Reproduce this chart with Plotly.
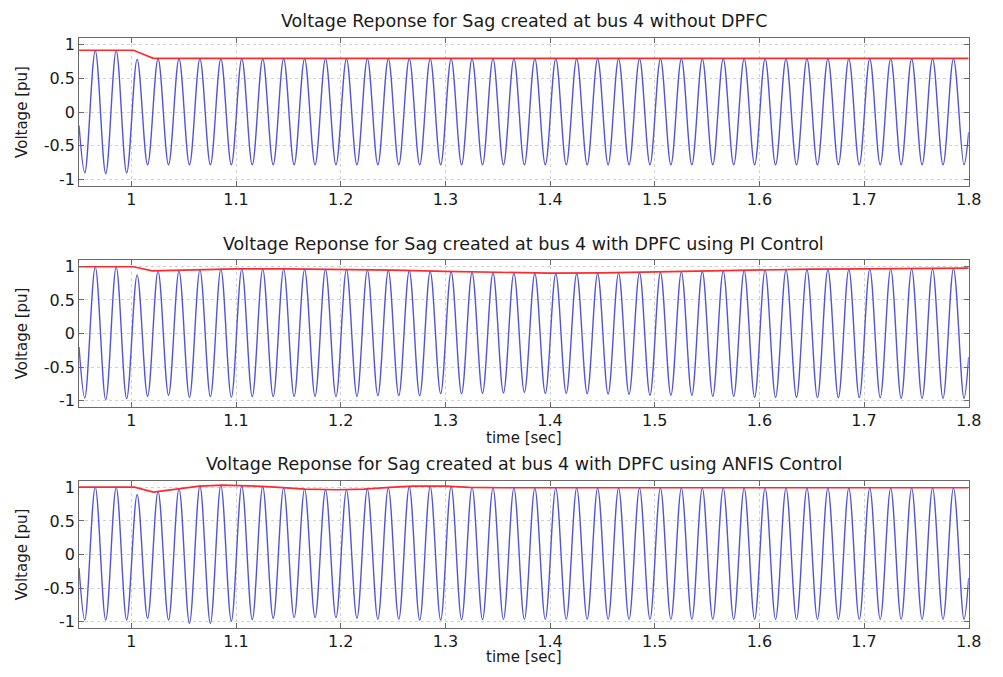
import plotly.graph_objects as go

# ---------------- data ----------------
x_ticks = [1.0, 1.1, 1.2, 1.3, 1.4, 1.5, 1.6, 1.7, 1.8]
x_ticklabels = ["1", "1.1", "1.2", "1.3", "1.4", "1.5", "1.6", "1.7", "1.8"]
y_ticks = [-1, -0.5, 0, 0.5, 1]
y_ticklabels = ["-1", "-0.5", "0", "0.5", "1"]

titles = [
    "Voltage Reponse for Sag created at bus 4 without DPFC",
    "Voltage Reponse for Sag created at bus 4 with DPFC using PI Control",
    "Voltage Reponse for Sag created at bus 4 with DPFC using ANFIS Control",
]

# times of the positive peaks and negative troughs of the waveform [sec]
peak_t = [0.9655, 0.9855, 1.0055, 1.0255, 1.0455, 1.0655, 1.0855, 1.1055, 1.1255, 1.1455,
          1.1655, 1.1855, 1.2055, 1.2255, 1.2455, 1.2655, 1.2855, 1.3055, 1.3255, 1.3455,
          1.3655, 1.3855, 1.4055, 1.4255, 1.4455, 1.4655, 1.4855, 1.5055, 1.5255, 1.5455,
          1.5655, 1.5855, 1.6055, 1.6255, 1.6455, 1.6655, 1.6855, 1.7055, 1.7255, 1.7455,
          1.7655, 1.7855]
trough_t = [0.9555, 0.9755, 0.9955, 1.0155, 1.0355, 1.0555, 1.0755, 1.0955, 1.1155, 1.1355,
            1.1555, 1.1755, 1.1955, 1.2155, 1.2355, 1.2555, 1.2755, 1.2955, 1.3155, 1.3355,
            1.3555, 1.3755, 1.3955, 1.4155, 1.4355, 1.4555, 1.4755, 1.4955, 1.5155, 1.5355,
            1.5555, 1.5755, 1.5955, 1.6155, 1.6355, 1.6555, 1.6755, 1.6955, 1.7155, 1.7355,
            1.7555, 1.7755, 1.7955]
edge_t = [0.95, 1.8]

# panel 1 : without DPFC
peaks1 = [0.91, 0.91, 0.78, 0.79, 0.79, 0.79, 0.79, 0.79, 0.79, 0.79,
          0.79, 0.79, 0.79, 0.79, 0.79, 0.79, 0.79, 0.79, 0.79, 0.79,
          0.79, 0.79, 0.79, 0.79, 0.79, 0.79, 0.79, 0.79, 0.79, 0.79,
          0.79, 0.79, 0.79, 0.79, 0.79, 0.79, 0.79, 0.79, 0.79, 0.79,
          0.79, 0.79]
troughs1 = [-0.90, -0.91, -0.90, -0.78, -0.78, -0.78, -0.78, -0.78, -0.78, -0.78,
            -0.78, -0.78, -0.78, -0.78, -0.78, -0.78, -0.78, -0.78, -0.78, -0.78,
            -0.78, -0.78, -0.78, -0.78, -0.78, -0.78, -0.78, -0.78, -0.78, -0.78,
            -0.78, -0.78, -0.78, -0.78, -0.78, -0.78, -0.78, -0.78, -0.78, -0.78,
            -0.78, -0.78, -0.78]
edges1 = [-0.2, -0.3]
env1_t = [0.95, 1.002, 1.021, 1.8]
env1_v = [0.915, 0.915, 0.795, 0.795]

# panel 2 : DPFC with PI control
peaks2 = [0.99, 0.99, 0.87, 0.93, 0.93, 0.945, 0.96, 0.96, 0.96, 0.96,
          0.955, 0.955, 0.955, 0.945, 0.935, 0.935, 0.925, 0.92, 0.91, 0.905,
          0.90, 0.895, 0.89, 0.89, 0.895, 0.90, 0.905, 0.91, 0.915, 0.925,
          0.93, 0.94, 0.945, 0.95, 0.95, 0.955, 0.955, 0.96, 0.96, 0.96,
          0.96, 0.965]
troughs2 = [-0.96, -0.985, -0.97, -0.935, -0.92, -0.95, -0.94, -0.95, -0.94, -0.94,
            -0.935, -0.935, -0.94, -0.935, -0.925, -0.925, -0.925, -0.895, -0.895, -0.89,
            -0.885, -0.875, -0.89, -0.89, -0.895, -0.90, -0.905, -0.92, -0.92, -0.92,
            -0.935, -0.935, -0.95, -0.95, -0.95, -0.955, -0.955, -0.955, -0.955, -0.965,
            -0.965, -0.965, -0.965]
edges2 = [-0.2, -0.35]
env2_t = [0.95, 1.002, 1.02, 1.04, 1.08, 1.1, 1.15, 1.2, 1.25, 1.3,
          1.35, 1.4, 1.45, 1.5, 1.55, 1.6, 1.65, 1.7, 1.75, 1.8]
env2_v = [0.995, 0.995, 0.935, 0.94, 0.96, 0.965, 0.965, 0.96, 0.945, 0.925,
          0.91, 0.90, 0.905, 0.92, 0.935, 0.95, 0.96, 0.965, 0.97, 0.975]

# panel 3 : DPFC with ANFIS control
peaks3 = [1.0, 1.0, 0.89, 0.94, 0.98, 1.02, 1.03, 1.025, 1.01, 0.99,
          0.975, 0.965, 0.96, 0.97, 0.99, 1.01, 1.015, 1.015, 1.0, 0.99,
          0.99, 0.99, 0.99, 0.99, 0.99, 0.99, 0.99, 0.99, 0.99, 0.99,
          0.99, 0.99, 0.99, 0.99, 0.99, 0.99, 0.99, 0.99, 0.99, 0.99,
          0.99, 0.99]
troughs3 = [-0.975, -0.975, -0.975, -0.95, -0.975, -1.025, -1.025, -0.99, -0.97, -0.95,
            -0.94, -0.94, -0.94, -0.95, -0.965, -0.965, -0.975, -0.975, -0.97, -0.97,
            -0.965, -0.965, -0.965, -0.965, -0.965, -0.965, -0.965, -0.965, -0.965, -0.965,
            -0.965, -0.965, -0.965, -0.965, -0.965, -0.965, -0.965, -0.965, -0.965, -0.965,
            -0.965, -0.965, -0.965]
edges3 = [-0.2, -0.35]
env3_t = [0.95, 1.003, 1.021, 1.046, 1.065, 1.087, 1.106, 1.125, 1.141, 1.166,
          1.197, 1.222, 1.247, 1.269, 1.3, 1.323, 1.354, 1.8]
env3_v = [1.005, 1.005, 0.93, 0.975, 1.02, 1.035, 1.03, 1.015, 1.0, 0.975,
          0.965, 0.975, 1.0, 1.02, 1.02, 1.0, 0.995, 0.995]

# ---------------- styling ----------------
PAGE_PAD = 8                      # default body margin of the html page
W, H = 1003 - 2 * PAGE_PAD, 677 - 2 * PAGE_PAD
FONT = "DejaVu Sans"
BLUE = "#5252e0"
RED = "#ff2b2b"
AXC = "#6a6a6a"
GRID = "#d2d2d2"
CLEAR = "rgba(0,0,0,0)"


def px_x(wx):
    return (wx - PAGE_PAD) / W


def px_y(wy):
    return 1 - (wy - PAGE_PAD) / H


x_dom = [px_x(80), px_x(981.5)]
panel_px = [(35, 185), (259, 408), (482, 631)]   # window top, bottom of each axes box
y_doms = [[px_y(b), px_y(t)] for t, b in panel_px]
title_y_px = [18, 243, 465]
xlabel_y_px = [None, 439, 660]

panels = [
    (peaks1, troughs1, edges1, env1_t, env1_v),
    (peaks2, troughs2, edges2, env2_t, env2_v),
    (peaks3, troughs3, edges3, env3_t, env3_v),
]

fig = go.Figure()
annotations = []
for i, (pk, tr, ed, et, ev) in enumerate(panels):
    n = "" if i == 0 else str(i + 1)
    pts = sorted(list(zip(peak_t, pk)) + list(zip(trough_t, tr)) + list(zip(edge_t, ed)))
    fig.add_trace(go.Scatter(
        x=[p[0] for p in pts], y=[p[1] for p in pts], mode="lines",
        line=dict(color=BLUE, width=1.4, shape="spline", smoothing=1.0),
        xaxis="x" + n, yaxis="y" + n, showlegend=False, hoverinfo="skip"))
    fig.add_trace(go.Scatter(
        x=et, y=ev, mode="lines", line=dict(color=RED, width=1.7),
        xaxis="x" + n, yaxis="y" + n, showlegend=False, hoverinfo="skip"))

    common = dict(ticks="inside", ticklen=5, tickcolor=AXC, tickwidth=1,
                  showline=True, linecolor=AXC, linewidth=1, mirror="ticks",
                  showgrid=True, gridcolor=GRID, griddash="dot", gridwidth=1,
                  zeroline=False,
                  tickfont=dict(family=FONT, size=16, color="#1a1a1a"))
    fig.layout["xaxis" + n] = dict(domain=x_dom, range=[0.95, 1.8], tickvals=x_ticks,
                                   ticktext=x_ticklabels, anchor="y" + n,
                                   ticklabelstandoff=-2, **common)
    fig.layout["yaxis" + n] = dict(domain=y_doms[i], range=[-1.1, 1.1], tickvals=y_ticks,
                                   ticktext=y_ticklabels, anchor="x" + n, **common)

    cx = (x_dom[0] + x_dom[1]) / 2
    annotations.append(dict(text=titles[i], xref="paper", yref="paper", x=cx,
                            y=px_y(title_y_px[i]), xanchor="center", yanchor="middle",
                            showarrow=False, font=dict(family=FONT, size=17.5, color="#1a1a1a")))
    annotations.append(dict(text="Voltage [pu]", xref="paper", yref="paper", x=px_x(22),
                            y=sum(y_doms[i]) / 2, xanchor="center", yanchor="middle",
                            textangle=-90, showarrow=False,
                            font=dict(family=FONT, size=15, color="#1a1a1a")))
    if xlabel_y_px[i] is not None:
        annotations.append(dict(text="time [sec]", xref="paper", yref="paper", x=cx,
                                y=px_y(xlabel_y_px[i]), xanchor="center", yanchor="middle",
                                showarrow=False, font=dict(family=FONT, size=15, color="#1a1a1a")))

fig.update_layout(width=W, height=H, margin=dict(l=0, r=0, t=0, b=0),
                  paper_bgcolor="white", plot_bgcolor="white",
                  modebar=dict(bgcolor=CLEAR, color=CLEAR, activecolor=CLEAR),
                  annotations=annotations, showlegend=False)

fig.write_html("out.html")
